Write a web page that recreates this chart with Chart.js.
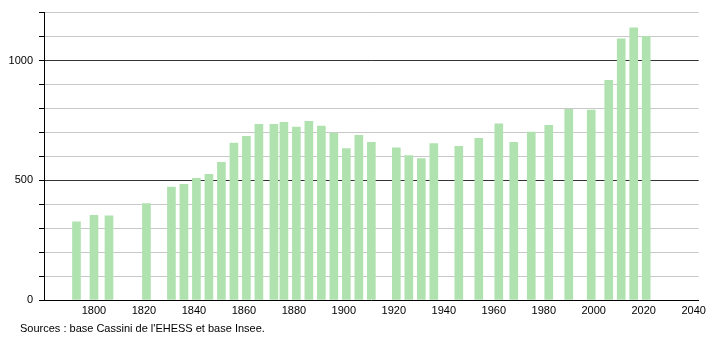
<!DOCTYPE html>
<html>
<head>
<meta charset="utf-8">
<script src="https://cdn.jsdelivr.net/npm/chart.js@4/dist/chart.umd.min.js"></script>
<style>
    body { margin: 0; background: #fff; }
    #wrap { position: relative; width: 710px; height: 340px; }
    #sources {
        position: absolute; left: 20px; top: 322px;
        font: 11px "Liberation Sans", Arial, sans-serif; color: #000;
    }
</style>
</head>
<body>
<div id="wrap">
    <canvas id="myChart" width="710" height="340"></canvas>
    <div id="sources">Sources : base Cassini de l'EHESS et base Insee.</div>
</div>
<script>
// DATA
const years = [
    1793, 1800, 1806, 1821, 1831, 1836, 1841, 1846, 1851, 1856, 1861, 1866,
    1872, 1876, 1881, 1886, 1891, 1896, 1901, 1906, 1911, 1921, 1926, 1931,
    1936, 1946, 1954, 1962, 1968, 1975, 1982, 1990, 1999, 2006, 2011, 2016, 2021
];
const population = [
    326, 354, 351, 403, 472, 483, 508, 525, 575, 655, 683, 733,
    733, 742, 722, 746, 726, 697, 632, 688, 658, 635, 603, 590,
    653, 642, 675, 736, 658, 701, 729, 796, 793, 917, 1090, 1136, 1101
];
const xTicks = [1800, 1820, 1840, 1860, 1880, 1900, 1920, 1940, 1960, 1980, 2000, 2020, 2040];
const yLabels = [0, 500, 1000];

const font = { family: '"Liberation Sans", Arial, sans-serif', size: 11 };

// CHART
const ctx = document.getElementById('myChart');
new Chart(ctx, {
    type: 'bar',
    data: {
        datasets: [{
            data: years.map((y, i) => ({ x: y, y: population[i] })),
            backgroundColor: '#b0e2b0',
            barThickness: 8
        }]
    },
    options: {
        responsive: false,
        animation: false,
        layout: { padding: { top: 10, right: 10, left: 0, bottom: 0 } },
        plugins: { legend: { display: false }, tooltip: { enabled: false } },
        scales: {
            x: {
                type: 'linear',
                offset: false,
                min: 1780,
                max: 2042,
                grid: { display: false, drawTicks: false, offset: false },
                border: { display: true, color: '#000', width: 1 },
                afterBuildTicks: scale => {
                    scale.ticks = xTicks.map(v => ({ value: v }));
                },
                ticks: {
                    padding: 4,
                    color: '#000',
                    font: font,
                    maxRotation: 0,
                    autoSkip: false,
                    callback: v => v
                },
                afterFit: scale => { scale.height = 40; }
            },
            y: {
                min: 0,
                max: 1200,
                grid: {
                    color: c => (c.tick.value === 500 || c.tick.value === 1000) ? '#333' : '#c8c8c8',
                    tickColor: '#000',
                    tickLength: 5
                },
                border: { display: true, color: '#000', width: 1 },
                ticks: {
                    stepSize: 100,
                    padding: 6,
                    color: '#000',
                    font: font,
                    callback: v => yLabels.includes(v) ? v : ''
                },
                afterFit: scale => { scale.width = 44; }
            }
        }
    }
});
</script>
</body>
</html>
